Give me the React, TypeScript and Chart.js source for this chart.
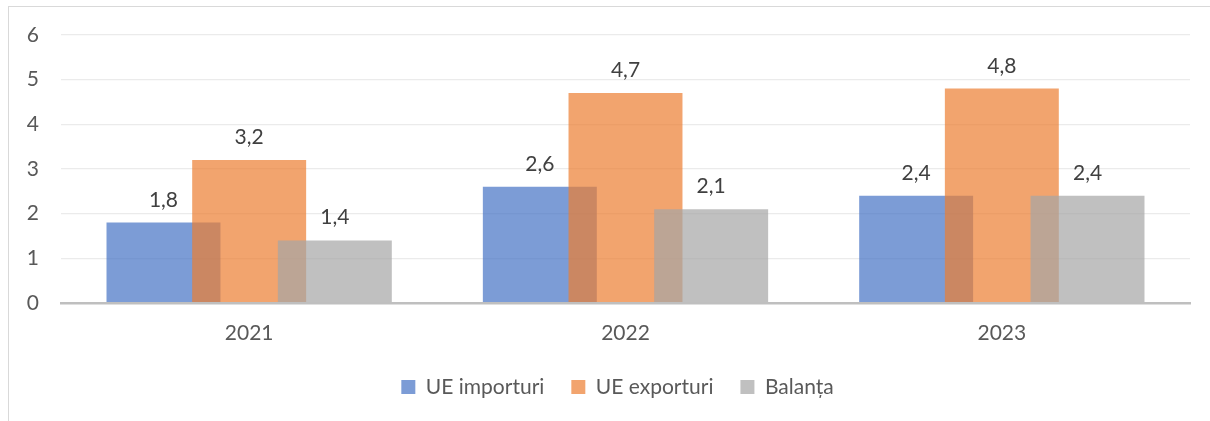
import React, { useEffect, useRef } from "react";
import { Chart, registerables } from "chart.js";

Chart.register(...registerables);

const categories = ["2021", "2022", "2023"];
const importValues = [1.8, 2.6, 2.4];
const exportValues = [3.2, 4.7, 4.8];
const balanceValues = [1.4, 2.1, 2.4];
const seriesLabels = ["UE importuri", "UE exporturi", "Balanța"];
const seriesColors = ["rgba(68,114,196,0.7)", "rgba(237,125,49,0.7)", "rgba(165,165,165,0.7)"];
const yMin = 0;
const yMax = 6;
const yStep = 1;

const FONT = "Lato, 'Liberation Sans', sans-serif";

const fmt = (v: number) => v.toFixed(1).replace(".", ",");

const drawOrderPlugin = {
  id: "drawOrderAndLabels",
  beforeDatasetsDraw(chart: any) {
    const ctx = chart.ctx;
    const n = chart.data.datasets.length;
    for (let i = 0; i < n; i++) {
      const meta = chart.getDatasetMeta(i);
      if (!meta.visible) continue;
      ctx.save();
      meta.controller.draw();
      ctx.restore();
    }
    ctx.save();
    ctx.font = `21px ${FONT}`;
    ctx.fillStyle = "#404040";
    ctx.textAlign = "center";
    ctx.textBaseline = "alphabetic";
    for (let i = 0; i < n; i++) {
      const meta = chart.getDatasetMeta(i);
      if (!meta.visible) continue;
      const data = chart.data.datasets[i].data as number[];
      meta.data.forEach((el: any, j: number) => {
        ctx.fillText(fmt(data[j]), el.x, el.y - 16);
      });
    }
    ctx.restore();
    return false;
  },
};

export default function App() {
  const ref = useRef<HTMLCanvasElement | null>(null);

  useEffect(() => {
    if (!ref.current) return;
    const chart = new Chart(ref.current, {
      type: "bar",
      data: {
        labels: categories,
        datasets: [importValues, exportValues, balanceValues].map((vals, i) => ({
          label: seriesLabels[i],
          data: vals,
          backgroundColor: seriesColors[i],
          borderWidth: 0,
          categoryPercentage: 0.683,
          barPercentage: 1.33,
        })),
      },
      options: {
        responsive: false,
        maintainAspectRatio: false,
        animation: false,
        devicePixelRatio: 1,
        layout: { padding: { left: 25, right: 0, top: 35, bottom: 13.5 } },
        plugins: {
          legend: {
            position: "bottom",
            labels: {
              boxWidth: 14,
              boxHeight: 14,
              padding: 27,
              color: "#595959",
              font: { family: FONT, size: 21 },
            },
          },
          tooltip: { enabled: false },
        },
        scales: {
          x: {
            grid: { display: true, drawOnChartArea: false, drawTicks: false, color: "rgba(0,0,0,0)" },
            border: { display: true, color: "#bfbfbf", width: 2.5, z: 1 },
            ticks: { color: "#595959", font: { family: FONT, size: 21 }, padding: 18 },
            afterFit: (s: any) => {
              s.height = 46.5;
            },
          },
          y: {
            min: yMin,
            max: yMax,
            ticks: { stepSize: yStep, color: "#595959", font: { family: FONT, size: 21 }, padding: 22 },
            grid: {
              drawTicks: false,
              color: (c: any) => (c.tick && c.tick.value === 0 ? "rgba(0,0,0,0)" : "#ebebeb"),
              lineWidth: 1.2,
            },
            border: { display: false },
            afterFit: (s: any) => {
              s.width = 36;
            },
          },
          ySpacer: {
            type: "linear",
            position: "right",
            display: true,
            grid: { display: false, drawTicks: false },
            border: { display: false },
            ticks: { display: false },
            afterFit: (s: any) => {
              s.width = 20;
            },
          },
        },
      },
      plugins: [drawOrderPlugin],
    });
    return () => chart.destroy();
  }, []);

  return (
    <div style={{ position: "fixed", left: 0, top: 0, width: 1210, height: 421, background: "#fff", overflow: "hidden" }}>
      <canvas ref={ref} width={1210} height={421} style={{ position: "absolute", left: 0, top: 0, width: 1210, height: 421 }} />
      <div
        style={{
          position: "absolute",
          left: 8,
          top: 6,
          width: 1300,
          height: 500,
          borderTop: "1px solid #d9d9d9",
          borderLeft: "1px solid #d9d9d9",
          pointerEvents: "none",
        }}
      />
    </div>
  );
}
